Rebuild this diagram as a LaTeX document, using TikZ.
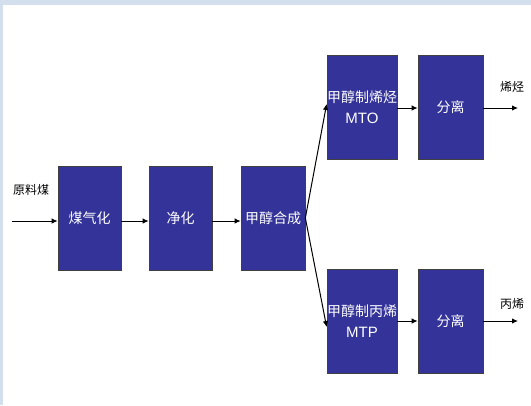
\documentclass[tikz,border=0pt]{standalone}
\usepackage{fontspec}
\setmainfont{Liberation Sans}
\newfontfamily\cjk{Noto Sans CJK SC}
\newfontfamily\lat{Liberation Sans}
\usetikzlibrary{arrows.meta}
\definecolor{boxblue}{HTML}{333399}
\definecolor{edgeblue}{HTML}{D4DFEE}
\tikzset{
  proc/.style={draw=black!75, line width=0.7pt, fill=boxblue, text=white, font=\cjk\fontsize{14}{21}\selectfont, align=center, inner sep=0pt},
  flow/.style={line width=1pt, -{Latex[length=6pt,width=5.5pt]}},
  lbl/.style={font=\cjk\fontsize{12}{14}\selectfont, inner sep=0pt}
}
\begin{document}
\begin{tikzpicture}[x=1pt,y=-1pt]
\fill[edgeblue] (0,0) rectangle (531,405);
\fill[white] (3,5) rectangle (531,405);
\useasboundingbox (0,0) rectangle (531,405);
\node[proc, minimum width=63pt, minimum height=104pt] (gas) at (89.5,218) {煤气化};
\node[proc, minimum width=63pt, minimum height=104pt] (pur) at (180.5,218) {净化};
\node[proc, minimum width=64pt, minimum height=104pt] (syn) at (273,218) {甲醇合成};
\node[proc, minimum width=70pt, minimum height=104pt] (mto) at (362,107) {甲醇制烯烃\\{\lat\fontsize{15}{21}\selectfont MTO}};
\node[proc, minimum width=65pt, minimum height=104pt] (sep1) at (450.5,107) {分离};
\node[proc, minimum width=70pt, minimum height=104pt] (mtp) at (362,321) {甲醇制丙烯\\{\lat\fontsize{15}{21}\selectfont MTP}};
\node[proc, minimum width=65pt, minimum height=104pt] (sep2) at (450.5,321) {分离};
\coordinate (in) at (12,221);
\coordinate (out1) at (518,108);
\coordinate (out2) at (518,321);
\node[lbl] (raw) at (31,190) {原料煤};
\node[lbl] (ole) at (512,87) {烯烃};
\node[lbl] (pro) at (512,304) {丙烯};
\draw[flow] (in) -- (gas.west |- in);
\draw[flow] (gas.east |- in) -- (pur.west |- in);
\draw[flow] (pur.east |- in) -- (syn.west |- in);
\draw[flow] ([yshift=0pt]syn.east) -- ([yshift=3pt]mto.west);
\draw[flow] ([yshift=0pt]syn.east) -- ([yshift=-6pt]mtp.west);
\draw[flow] ([yshift=-1pt]mto.east) -- ([yshift=-1pt]sep1.west);
\draw[flow] ([yshift=-1pt]sep1.east) -- (out1);
\draw[flow] (mtp.east) -- (sep2.west);
\draw[flow] (sep2.east) -- (out2);
\end{tikzpicture}
\end{document}
